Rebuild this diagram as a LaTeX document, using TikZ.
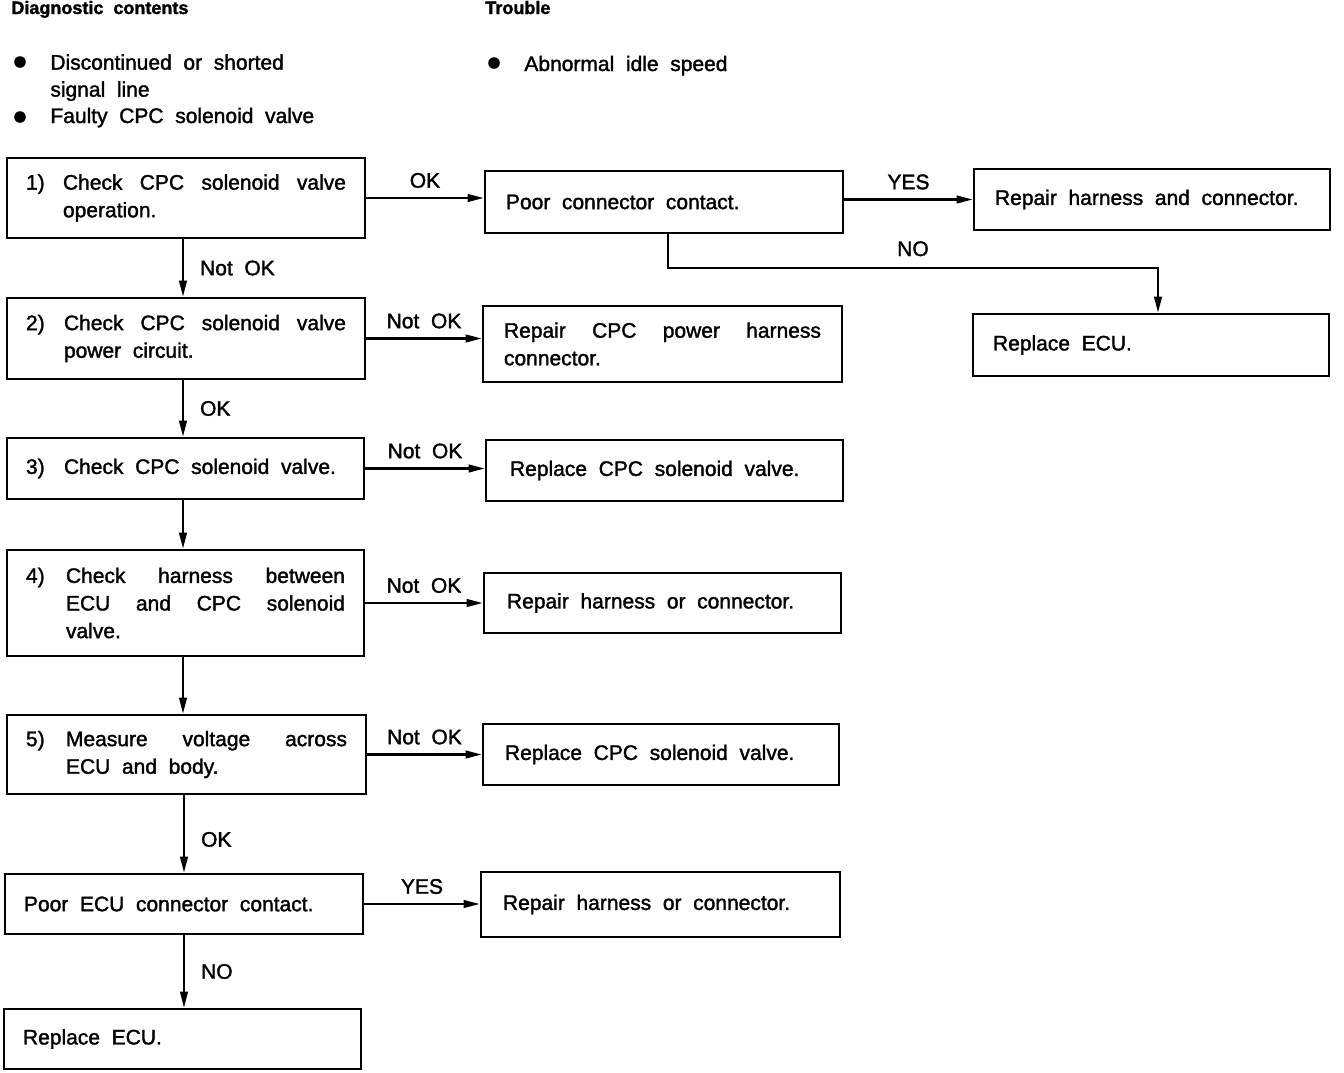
\documentclass[tikz,border=0pt]{standalone}
\usepackage{fontspec}
\setmainfont{Liberation Sans}[WordSpace=2, FakeBold=1.6]
\usetikzlibrary{arrows.meta}
\begin{document}
\begin{tikzpicture}[x=0.5pt,y=-0.5pt,
  box/.style={draw, line width=1.3pt, inner ysep=0pt, align=justify,
    font=\fontsize{10.5}{13.8}\selectfont},
  arr/.style={line width=1.1pt, -{Triangle[length=8pt,width=3.8pt]}},
  lbl/.style={font=\fontsize{10.5}{12}\selectfont, inner sep=0pt},
  txt/.style={font=\fontsize{10.5}{13.5}\selectfont, inner sep=0pt, align=left},
  head/.style={font=\fontsize{9}{11}\selectfont\bfseries, inner sep=0pt},
  bul/.style={circle, fill, inner sep=0pt, minimum size=5.8pt}]
\useasboundingbox (0,0) rectangle (1344,1072);

% header
\node[head, anchor=base west] (hdiag) at (11,14) {Diagnostic contents};
\node[head, anchor=base west] (htrou) at (485,14) {Trouble};
\node[bul] (bu1) at (20,62) {};
\node[txt, anchor=north west] (d1) at (50,54) {Discontinued or shorted\\signal line};
\node[bul] (bu2) at (20,117) {};
\node[txt, anchor=base west] (d2) at (50,123) {Faulty CPC solenoid valve};
\node[bul] (bu3) at (494,63) {};
\node[txt, anchor=base west] (t1) at (524,71) {Abnormal idle speed};

% left column
\node[box, minimum height=40pt, text width=160pt, inner xsep=9.5pt] (b1) at (186,198)
  {\noindent\makebox[18.5pt][l]{1)}\hangindent=18.5pt\hangafter=1 Check CPC solenoid valve operation.\par};
\node[box, minimum height=40.5pt, text width=160pt, inner xsep=9.5pt] (b2) at (186,338.5)
  {\noindent\makebox[19pt][l]{2)}\hangindent=19pt\hangafter=1 Check CPC solenoid valve power circuit.\par};
\node[box, minimum height=30.5pt, text width=159.5pt, inner xsep=9.5pt] (b3) at (185.5,468.5)
  {\noindent\makebox[19pt][l]{3)}Check CPC solenoid valve.\par};
\node[box, minimum height=53pt, text width=159.5pt, inner xsep=9.5pt] (b4) at (185.5,603)
  {\noindent\makebox[20pt][l]{4)}\hangindent=20pt\hangafter=1 Check harness between\linebreak ECU and CPC solenoid\linebreak valve.\par};
\node[box, minimum height=39.5pt, text width=160.5pt, inner xsep=9.5pt] (b5) at (186.5,754.5)
  {\noindent\makebox[20pt][l]{5)}\hangindent=20pt\hangafter=1 Measure voltage across\linebreak ECU and body.\par};
\node[box, minimum height=30pt, text width=160pt, inner xsep=9.5pt] (b6) at (184,904)
  {Poor ECU connector contact.};
\node[box, minimum height=30pt, text width=159.5pt, inner xsep=9.5pt] (b7) at (182.5,1039)
  {Replace ECU.};

% middle column
\node[box, minimum height=31pt, text width=158pt, inner xsep=10.5pt] (p) at (664,202)
  {Poor connector contact.};
\node[box, minimum height=38pt, text width=158.5pt, inner xsep=10.5pt] (r2) at (662.5,344)
  {Repair CPC power harness\linebreak connector.};
\node[box, minimum height=30.5pt, text width=154.5pt, inner xsep=12pt] (r3) at (664.5,470.5)
  {Replace CPC solenoid valve.};
\node[box, minimum height=30pt, text width=155.5pt, inner xsep=11.5pt] (r4) at (662.5,603)
  {Repair harness or connector.};
\node[box, minimum height=30.5pt, text width=156pt, inner xsep=11pt] (r5) at (661,754.5)
  {Replace CPC solenoid valve.};
\node[box, minimum height=32.5pt, text width=157.5pt, inner xsep=11pt] (r6) at (660.5,904.5)
  {Repair harness or connector.};

% right column
\node[box, minimum height=30.5pt, text width=157pt, inner xsep=10.5pt] (rh) at (1152,199.5)
  {Repair harness and connector.};
\node[box, minimum height=31pt, text width=158pt, inner xsep=10pt] (re) at (1151,345)
  {Replace ECU.};

% horizontal connectors
\draw[arr] (b1.east) -- node[lbl, above=4.5pt] {OK} (b1.east -| p.west);
\draw[arr] (rh.west -| p.east) -- node[lbl, above=4.5pt] {YES} (rh.west);
\draw[arr] ([xshift=2pt]p.south) -- ++(0,34) -| node[lbl, above=5.5pt, pos=0.25] {NO} ([xshift=3.5pt]re.north);
\draw[arr] (b2.east) -- node[lbl, above=4.5pt] {Not OK} (b2.east -| r2.west);
\draw[arr] (b3.east) -- node[lbl, above=4.5pt] {Not OK} (b3.east -| r3.west);
\draw[arr] (b4.east) -- node[lbl, above=4.5pt] {Not OK} (b4.east -| r4.west);
\draw[arr] (b5.east) -- node[lbl, above=4.5pt] {Not OK} (b5.east -| r5.west);
\draw[arr] (b6.east) -- node[lbl, above=4.5pt] {YES} (b6.east -| r6.west);

% vertical connectors
\draw[arr] ([xshift=-1.5pt]b1.south) -- node[lbl, right=8pt] {Not OK} ([xshift=-1.5pt]b1.south |- b2.north);
\draw[arr] ([xshift=-1.5pt]b2.south) -- node[lbl, right=8pt] {OK} ([xshift=-1.5pt]b2.south |- b3.north);
\draw[arr] ([xshift=-1.25pt]b3.south) -- ([xshift=-1.25pt]b3.south |- b4.north);
\draw[arr] ([xshift=-1.25pt]b4.south) -- ([xshift=-1.25pt]b4.south |- b5.north);
\draw[arr] ([xshift=-1.25pt]b5.south) -- node[lbl, right=8pt, pos=0.57] {OK} ([xshift=-1.25pt]b5.south |- b6.north);
\draw[arr] (b6.south) -- node[lbl, right=8pt] {NO} (b6.south |- b7.north);
\end{tikzpicture}
\end{document}
